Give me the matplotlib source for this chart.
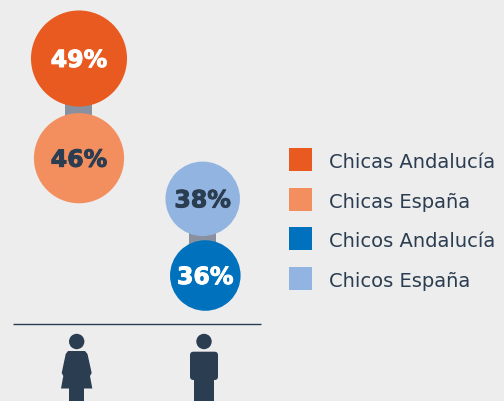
import matplotlib
matplotlib.use('Agg')
import matplotlib.pyplot as plt
import matplotlib.patheffects as pe
from matplotlib.patches import Circle, FancyBboxPatch, Polygon, Rectangle

labels = ['Chicas Andalucía', 'Chicas España', 'Chicos Andalucía', 'Chicos España']
values = [49, 46, 36, 38]
colors = ['#E95A20', '#F38F5F', '#0071BC', '#92B4E1']
text_colors = ['white', '#2B3D50', 'white', '#2B3D50']
centers_x = [79, 79, 205.3, 202.7]
centers_y = [59.5, 159.2, 276.5, 199.8]
legend_y = [149, 189, 228, 268]

dark = '#2B3D50'
bg = '#EDEDED'
r_scale = 0.98

plt.rcParams['font.family'] = ['DejaVu Sans']

fig = plt.figure(figsize=(5.04, 4.02), dpi=100, facecolor=bg)
ax = fig.add_axes([0, 0, 1, 1])
ax.set_xlim(0, 504)
ax.set_ylim(402, 0)
ax.axis('off')

# connectors behind the circles
ax.add_patch(Rectangle((65.3, 95), 27, 25, color='#8A919E', lw=0, zorder=1))
ax.add_patch(Rectangle((189.3, 225), 27, 25, color='#8A919E', lw=0, zorder=1))

for v, c, tc, x, y in zip(values, colors, text_colors, centers_x, centers_y):
    ax.add_patch(Circle((x, y), v * r_scale, color=c, lw=0, zorder=2))
    t = ax.text(x, y - 1, '%d%%' % v, color=tc, fontsize=17, fontweight='bold',
                ha='center', va='center_baseline', zorder=3)
    t.set_path_effects([pe.withStroke(linewidth=0.7, foreground=tc)])

for lab, c, y in zip(labels, colors, legend_y):
    ax.add_patch(Rectangle((289, y), 23, 23, color=c, lw=0))
    ax.text(329, y + 11.5, lab, color=dark, fontsize=14, ha='left', va='center_baseline')

ax.plot([13, 261], [324.5, 324.5], color=dark, lw=1.0, solid_capstyle='butt')

# woman icon
ax.add_patch(Circle((76.7, 342.5), 7.7, color=dark, lw=0))
ax.add_patch(Polygon([(68, 352), (85, 352), (87.5, 355), (91.7, 374), (90, 377), (92.3, 389.5),
                      (61, 389.5), (63.3, 377), (61.7, 374), (65.7, 355)], color=dark, lw=0))
ax.add_patch(Rectangle((69.3, 385), 15, 20, color=dark, lw=0))

# man icon
ax.add_patch(Circle((204, 342.5), 7.7, color=dark, lw=0))
ax.add_patch(FancyBboxPatch((190, 352.7), 28, 28.3, boxstyle='round,pad=0,rounding_size=3.5',
                            color=dark, lw=0))
ax.add_patch(Rectangle((194.3, 378), 19.4, 27, color=dark, lw=0))

fig.savefig('out.png', dpi=100, facecolor=bg)
